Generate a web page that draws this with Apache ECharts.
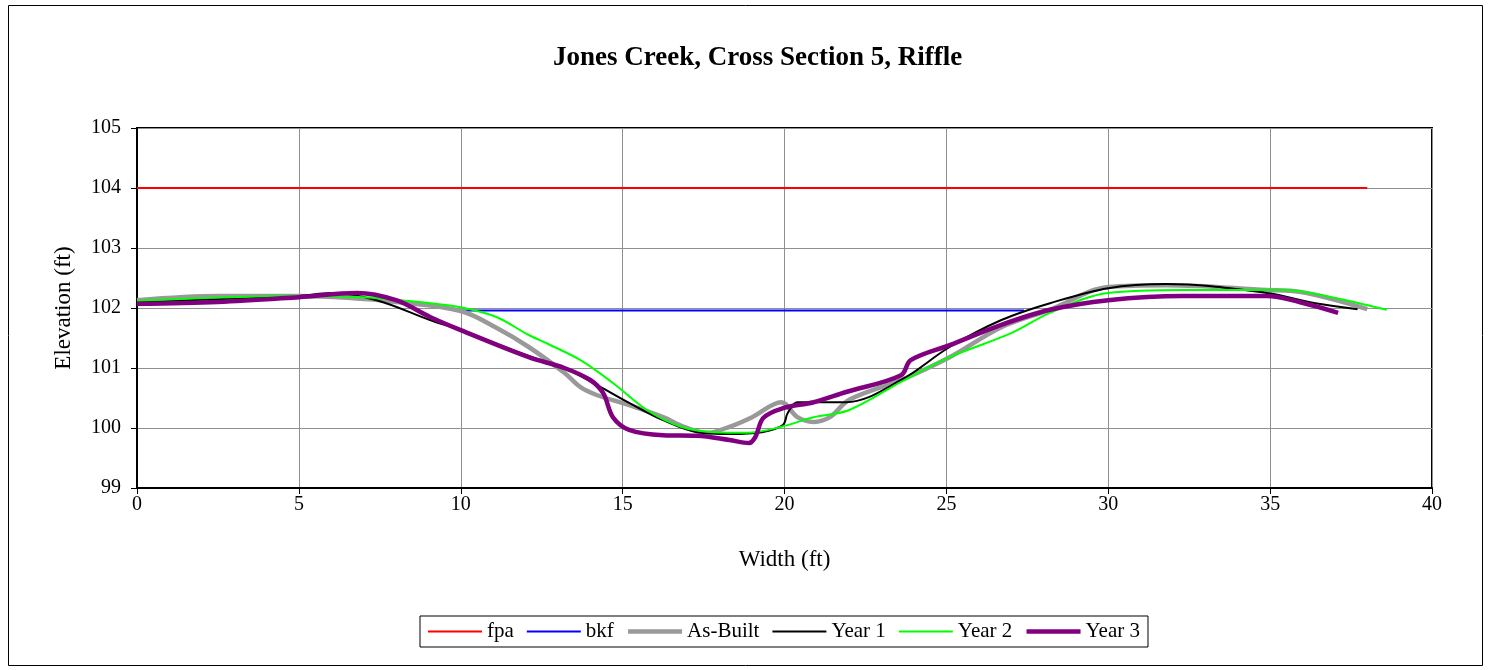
<!DOCTYPE html>
<html>
<head>
<meta charset="utf-8">
<script src="https://cdn.jsdelivr.net/npm/echarts@6/dist/echarts.min.js"></script>
<style>
  html, body { margin: 0; padding: 0; background: #fff; }
  #chart { width: 1490px; height: 670px; }
</style>
</head>
<body>
<div id="chart"></div>
<script>
// Survey data: station across the section (ft) and elevation (ft)
const fpaX = [0, 38.0];
const fpaY = [104.0, 104.0];

const bkfX = [10.0, 27.4];
const bkfY = [101.96, 101.96];

const asBuiltX = [0, 2.5, 5, 6.5, 8, 10, 11.1, 12.1, 13.2, 13.7, 14.2, 15.2, 16.25, 16.9, 17.6, 18.3, 19.0, 19.9, 20.4, 20.9, 21.4, 22.0, 23.6, 25.1, 26.7, 28.2, 30.0, 31.8, 34.9, 35.9, 38.0];
const asBuiltY = [102.13, 102.2, 102.2, 102.17, 102.1, 101.95, 101.67, 101.35, 100.92, 100.68, 100.55, 100.38, 100.18, 100.02, 99.92, 100.02, 100.18, 100.43, 100.18, 100.1, 100.18, 100.47, 100.8, 101.18, 101.68, 101.97, 102.35, 102.38, 102.3, 102.27, 101.98];

const year1X = [0, 5, 6, 7.4, 9.05, 10, 12.1, 13.2, 14.2, 15.2, 16.25, 17.3, 18.3, 19.3, 19.95, 20.1, 20.4, 21.9, 23.6, 25.1, 26.7, 28.2, 30.0, 31.8, 34.9, 36.4, 37.7];
const year1Y = [102.1, 102.2, 102.25, 102.13, 101.8, 101.63, 101.2, 101.0, 100.72, 100.42, 100.13, 99.93, 99.9, 99.93, 100.05, 100.25, 100.43, 100.43, 100.8, 101.35, 101.8, 102.08, 102.33, 102.4, 102.25, 102.08, 101.98];

const year2X = [0, 5, 7, 9.05, 10.1, 11.1, 12.1, 12.7, 13.7, 14.7, 15.75, 16.8, 17.8, 18.85, 19.9, 20.9, 22.0, 23.6, 25.1, 27.0, 28.2, 30.0, 32.3, 35.4, 36.9, 38.6];
const year2Y = [102.12, 102.2, 102.18, 102.08, 102.0, 101.85, 101.55, 101.4, 101.13, 100.75, 100.3, 100.02, 99.93, 99.92, 100.02, 100.18, 100.3, 100.77, 101.18, 101.58, 101.92, 102.25, 102.3, 102.3, 102.18, 101.97];

const year3X = [0, 2.5, 5, 6.8, 8.0, 9.05, 10, 12.1, 13.2, 14.0, 14.4, 14.7, 15.2, 16.25, 17.3, 18.3, 18.9, 19.1, 19.35, 19.95, 20.9, 21.9, 23.6, 23.9, 25.1, 26.7, 28.2, 30.0, 32.3, 34.9, 35.9, 37.1];
const year3Y = [102.07, 102.1, 102.18, 102.25, 102.13, 101.85, 101.63, 101.18, 101.0, 100.8, 100.58, 100.18, 99.97, 99.88, 99.87, 99.8, 99.75, 99.85, 100.17, 100.33, 100.43, 100.6, 100.88, 101.13, 101.38, 101.72, 101.97, 102.13, 102.2, 102.2, 102.1, 101.92];

const xTicks = { min: 0, max: 40, step: 5 };
const yTicks = { min: 99, max: 105, step: 1 };

const pairs = (xs, ys) => xs.map((x, i) => [x, ys[i]]);

const serif = '"Liberation Serif", "Times New Roman", serif';

const chart = echarts.init(document.getElementById('chart'));

function lineSeries(name, xs, ys, color, width, smooth) {
  return {
    name: name,
    type: 'line',
    data: pairs(xs, ys),
    symbol: 'none',
    smooth: smooth,
    lineStyle: { color: color, width: width },
    itemStyle: { color: color },
    emphasis: { disabled: true },
    animation: false
  };
}

chart.setOption({
  animation: false,
  backgroundColor: '#fff',
  title: {
    text: 'Jones Creek, Cross Section 5, Riffle',
    left: 548,
    top: 40,
    textStyle: { fontFamily: serif, fontSize: 27, fontWeight: 'bold', color: '#000' }
  },
  graphic: [{
    type: 'rect',
    shape: { x: 8.5, y: 5.5, width: 1474, height: 660 },
    style: { fill: 'none', stroke: '#000', lineWidth: 1 },
    silent: true,
    z: -1
  }],
  grid: {
    left: 137, top: 128, right: 58, bottom: 182,
    show: true, borderColor: '#000', borderWidth: 2
  },
  legend: {
    left: 420, top: 616,
    padding: [5, 8, 5, 7],
    borderColor: '#000', borderWidth: 1,
    itemWidth: 54, itemHeight: 12, itemGap: 12,
    itemStyle: { opacity: 0 },
    lineStyle: { width: 'inherit' },
    textStyle: { fontFamily: serif, fontSize: 21, color: '#000' },
    data: ['fpa', 'bkf', 'As-Built', 'Year 1', 'Year 2', 'Year 3']
  },
  xAxis: {
    type: 'value',
    min: xTicks.min, max: xTicks.max, interval: xTicks.step,
    name: 'Width (ft)',
    nameLocation: 'middle',
    nameGap: 60,
    nameTextStyle: { fontFamily: serif, fontSize: 23, color: '#000' },
    axisLine: { lineStyle: { color: '#000', width: 2 } },
    axisTick: { show: true, length: 6, lineStyle: { color: '#000', width: 1 } },
    axisLabel: { fontFamily: serif, fontSize: 20, color: '#000', margin: 7 },
    splitLine: { show: true, lineStyle: { color: '#8f8f8f', width: 1 } }
  },
  yAxis: {
    type: 'value',
    min: yTicks.min, max: yTicks.max, interval: yTicks.step,
    name: 'Elevation (ft)',
    nameLocation: 'middle',
    nameGap: 62,
    nameRotate: 90,
    nameTextStyle: { fontFamily: serif, fontSize: 23, color: '#000' },
    axisLine: { lineStyle: { color: '#000', width: 2 } },
    axisTick: { show: true, length: 6, lineStyle: { color: '#000', width: 1 } },
    axisLabel: { fontFamily: serif, fontSize: 20, color: '#000', margin: 16 },
    splitLine: { show: true, lineStyle: { color: '#8f8f8f', width: 1 } }
  },
  series: [
    lineSeries('fpa', fpaX, fpaY, '#ff0000', 2, false),
    lineSeries('bkf', bkfX, bkfY, '#0000ff', 2, false),
    lineSeries('As-Built', asBuiltX, asBuiltY, '#999999', 4.5, 0.35),
    lineSeries('Year 1', year1X, year1Y, '#000000', 2, 0.35),
    lineSeries('Year 2', year2X, year2Y, '#00ff00', 2, 0.35),
    lineSeries('Year 3', year3X, year3Y, '#800080', 4.5, 0.35)
  ]
});
</script>
</body>
</html>
